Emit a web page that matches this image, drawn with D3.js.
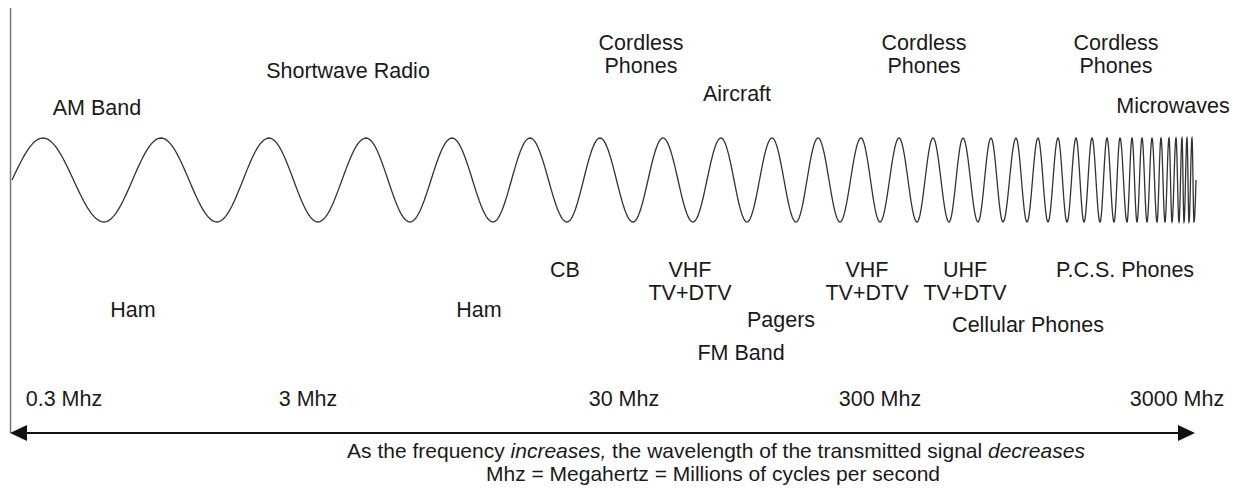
<!DOCTYPE html>
<html>
<head>
<meta charset="utf-8">
<script src="https://cdn.jsdelivr.net/npm/d3@7"></script>
<style>
  html, body { margin: 0; padding: 0; background: #fff; }
  svg { display: block; }
  text { font-family: "Liberation Sans", Arial, Helvetica, sans-serif; fill: #1a1a1a; }
</style>
</head>
<body>
<svg id="chart" width="1233" height="489"></svg>
<script>
// ---- DATA ----
// Horizontal positions of the wave's successive crests and troughs (alternating, starting with a crest),
// in spectrum-position units; the wave starts and ends on the midline.
const waveStart = 12;
const waveEnd = 1196;
const waveExtrema = [
  43, 104, 161, 217, 269, 318, 366, 410, 452, 493, 530, 567, 600, 633, 663, 693,
  721, 747, 772, 796, 818, 840, 861, 880, 899, 917, 933, 949, 963, 978, 991, 1003,
  1016, 1027, 1038, 1048, 1058, 1067, 1076, 1084, 1092, 1100, 1107, 1114, 1120, 1127,
  1132, 1137, 1142, 1147, 1152, 1157, 1161, 1165, 1169, 1172, 1176, 1179, 1182, 1184,
  1187, 1189, 1192, 1194
];

const tickLabels = ["0.3 Mhz", "3 Mhz", "30 Mhz", "300 Mhz", "3000 Mhz"];
const tickPos    = [64, 308, 624, 880, 1177];

const labelsAbove = [
  ["AM Band"], ["Shortwave Radio"], ["Cordless", "Phones"], ["Aircraft"],
  ["Cordless", "Phones"], ["Cordless", "Phones"], ["Microwaves"]
];
const labelsBelow = [
  ["Ham"], ["Ham"], ["CB"], ["VHF", "TV+DTV"], ["Pagers"], ["FM Band"],
  ["VHF", "TV+DTV"], ["UHF", "TV+DTV"], ["P.C.S. Phones"], ["Cellular Phones"]
];

const captionLine1 = [
  ["As the frequency ", false], ["increases,", true],
  [" the wavelength of the transmitted signal ", false], ["decreases", true]
];
const captionLine2 = "Mhz = Megahertz = Millions of cycles per second";

// ---- LAYOUT ----
const aboveLayout = [[97, 115], [348, 78], [641, 50], [737, 101], [924, 50], [1116, 50], [1173, 113]];
const belowLayout = [[133, 317], [479, 317], [565, 277], [690, 277], [781, 327], [741, 360],
                     [867, 277], [965, 277], [1125, 277], [1028, 332]];
const lineGap = 23;
const fontSize = 21.5;
const captionSize = 21;

const svg = d3.select("#chart");
svg.append("rect").attr("width", 1233).attr("height", 489).attr("fill", "#fff");

const x = d3.scaleLinear().domain([waveStart, waveEnd]).range([waveStart, waveEnd]);
const y = d3.scaleLinear().domain([-1, 1]).range([222, 138]);

// key points: (position, phase) — phase advances a quarter cycle to the first crest, then half cycles
const keys = [{p: waveStart, ph: 0}];
waveExtrema.forEach((p, i) => keys.push({p, ph: Math.PI / 2 + i * Math.PI}));
keys.push({p: waveEnd, ph: keys[keys.length - 1].ph + Math.PI / 2});

const pts = [];
for (let i = 0; i < keys.length - 1; i++) {
  const a = keys[i], b = keys[i + 1];
  const n = 24;
  for (let j = 0; j < n; j++) {
    const t = j / n;
    pts.push([a.p + (b.p - a.p) * t, Math.sin(a.ph + (b.ph - a.ph) * t)]);
  }
}
pts.push([waveEnd, Math.sin(keys[keys.length - 1].ph)]);

const line = d3.line().x(d => x(d[0])).y(d => y(d[1]));
svg.append("path").attr("d", line(pts)).attr("fill", "none")
  .attr("stroke", "#333").attr("stroke-width", 1.3);

// vertical axis line
svg.append("line").attr("x1", 10.5).attr("x2", 10.5).attr("y1", 8).attr("y2", 433)
  .attr("stroke", "#777").attr("stroke-width", 1.5);

// double arrow
const arrowY = 433;
svg.append("line").attr("x1", 24).attr("x2", 1180).attr("y1", arrowY).attr("y2", arrowY)
  .attr("stroke", "#111").attr("stroke-width", 2);
svg.append("path").attr("d", `M10,${arrowY} L27,${arrowY - 8} L27,${arrowY + 8} Z`).attr("fill", "#111");
svg.append("path").attr("d", `M1195,${arrowY} L1178,${arrowY - 8} L1178,${arrowY + 8} Z`).attr("fill", "#111");

function drawLabels(labels, layout) {
  labels.forEach((lines, i) => {
    const t = svg.append("text").attr("text-anchor", "middle").attr("font-size", fontSize);
    lines.forEach((s, k) => {
      t.append("tspan").attr("x", x(layout[i][0])).attr("y", layout[i][1] + k * lineGap).text(s);
    });
  });
}
drawLabels(labelsAbove, aboveLayout);
drawLabels(labelsBelow, belowLayout);

// frequency ticks
svg.selectAll("text.tick").data(tickLabels).enter().append("text")
  .attr("class", "tick").attr("text-anchor", "middle").attr("font-size", fontSize)
  .attr("x", (d, i) => x(tickPos[i])).attr("y", 406).text(d => d);

// caption
const cap = svg.append("text").attr("text-anchor", "middle").attr("font-size", captionSize)
  .attr("x", 716).attr("y", 458);
captionLine1.forEach(([s, it]) => cap.append("tspan").attr("font-style", it ? "italic" : "normal").text(s));
svg.append("text").attr("text-anchor", "middle").attr("font-size", captionSize)
  .attr("x", 713).attr("y", 481).text(captionLine2);
</script>
</body>
</html>
